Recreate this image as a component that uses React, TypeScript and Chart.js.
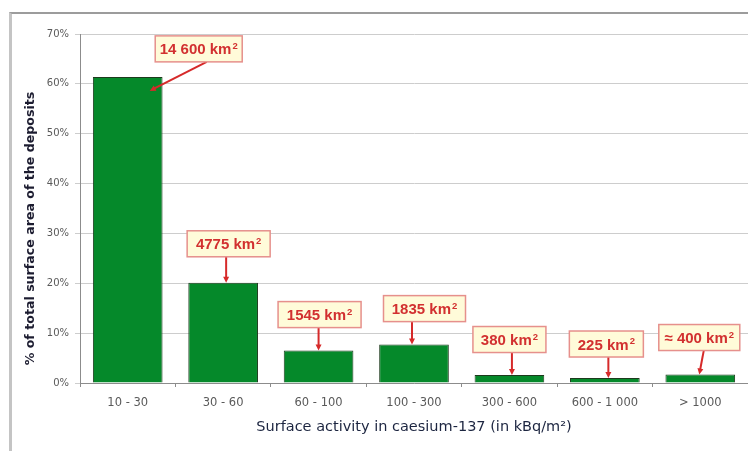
import React, { useEffect, useRef } from "react";
import { Chart, registerables } from "chart.js";

Chart.register(...registerables);

// ---- data ----
const categories = ["10 - 30", "30 - 60", "60 - 100", "100 - 300", "300 - 600", "600 - 1 000", "> 1000"];
const sharePercent = [61.4, 20.1, 6.5, 7.7, 1.6, 1.0, 1.7];
const areaLabels = ["14 600 km", "4775 km", "1545 km", "1835 km", "380 km", "225 km", "\u2248 400 km"];
const areaSuperscript = "2";
const yMax = 70;
const yStep = 10;
const xTitle = "Surface activity in caesium-137 (in kBq/m\u00B2)";
const yTitle = "% of total surface area of the deposits";

// ---- callout layout (pixel offsets relative to each bar's top centre) ----
const calloutLayout = [
  { dx: 71, gap: 15, w: 87, fromDx: 79, toDx: 22, toDy: 14 },
  { dx: 5.5, gap: 26, w: 83, fromDx: 3, toDx: 3, toDy: 0 },
  { dx: 1, gap: 23, w: 83, fromDx: 0, toDx: 0, toDy: 0 },
  { dx: 10.5, gap: 23, w: 82, fromDx: -2, toDx: -2, toDy: 0 },
  { dx: 0, gap: 22.5, w: 73, fromDx: 2.5, toDx: 2.5, toDy: 0 },
  { dx: 1.5, gap: 21, w: 74, fromDx: 3.5, toDx: 3.5, toDy: 0 },
  { dx: -1, gap: 24, w: 81, fromDx: 3.5, toDx: -1, toDy: 0 },
];
const BOX_H = 26;

const calloutPlugin = {
  id: "callouts",
  afterDatasetsDraw(chart: any) {
    const ctx: CanvasRenderingContext2D = chart.ctx;
    const meta = chart.getDatasetMeta(0);
    meta.data.forEach((bar: any, i: number) => {
      const L = calloutLayout[i];
      if (!L) return;
      const bx = bar.x;
      const by = bar.y;
      const cx = bx + L.dx;
      const bottom = by - L.gap;
      const top = bottom - BOX_H;
      const left = cx - L.w / 2;

      // arrow
      const sx = bx + L.fromDx;
      const sy = bottom;
      const ex = bx + L.toDx;
      const ey = by + L.toDy;
      const ang = Math.atan2(ey - sy, ex - sx);
      const head = 6;
      const hw = 3;
      ctx.save();
      ctx.strokeStyle = "#d62a2a";
      ctx.fillStyle = "#d62a2a";
      ctx.lineWidth = 2;
      ctx.beginPath();
      ctx.moveTo(sx, sy);
      ctx.lineTo(ex - Math.cos(ang) * head * 0.8, ey - Math.sin(ang) * head * 0.8);
      ctx.stroke();
      ctx.beginPath();
      ctx.moveTo(ex, ey);
      ctx.lineTo(ex - Math.cos(ang) * head - Math.sin(ang) * hw, ey - Math.sin(ang) * head + Math.cos(ang) * hw);
      ctx.lineTo(ex - Math.cos(ang) * head + Math.sin(ang) * hw, ey - Math.sin(ang) * head - Math.cos(ang) * hw);
      ctx.closePath();
      ctx.fill();

      // box
      ctx.fillStyle = "#fffbd9";
      ctx.fillRect(left, top, L.w, BOX_H);
      ctx.strokeStyle = "#e6908c";
      ctx.lineWidth = 1.5;
      ctx.strokeRect(left, top, L.w, BOX_H);

      // text
      const mainFont = "bold 15px 'Liberation Sans', Arial, sans-serif";
      const supFont = "bold 9.5px 'Liberation Sans', Arial, sans-serif";
      ctx.font = mainFont;
      const mw = ctx.measureText(areaLabels[i]).width;
      ctx.font = supFont;
      const sw = ctx.measureText(areaSuperscript).width;
      const tx = cx - (mw + sw + 1) / 2;
      const baseline = top + BOX_H / 2 + 5.5;
      ctx.fillStyle = "#d23030";
      ctx.textBaseline = "alphabetic";
      ctx.textAlign = "left";
      ctx.font = mainFont;
      ctx.fillText(areaLabels[i], tx, baseline);
      ctx.font = supFont;
      ctx.fillText(areaSuperscript, tx + mw + 1, baseline - 5.5);
      ctx.restore();
    });
  },
};

const titlePlugin = {
  id: "axisTitles",
  afterDraw(chart: any) {
    const ctx: CanvasRenderingContext2D = chart.ctx;
    const a = chart.chartArea;
    ctx.save();
    // y title
    ctx.translate(31, (a.top + a.bottom) / 2 + 20);
    ctx.rotate(-Math.PI / 2);
    ctx.font = "bold 12.6px 'DejaVu Sans', Verdana, sans-serif";
    ctx.fillStyle = "#1c1c30";
    ctx.textAlign = "center";
    ctx.textBaseline = "middle";
    ctx.fillText(yTitle, 0, 0);
    ctx.restore();
    // x title
    ctx.save();
    ctx.font = "14.5px 'DejaVu Sans', Verdana, sans-serif";
    ctx.fillStyle = "#1c2540";
    ctx.textAlign = "center";
    ctx.textBaseline = "middle";
    ctx.fillText(xTitle, (a.left + a.right) / 2, a.bottom + 44);
    ctx.restore();
  },
};

export default function App() {
  const canvasRef = useRef<HTMLCanvasElement | null>(null);

  useEffect(() => {
    if (!canvasRef.current) return;
    const chart = new Chart(canvasRef.current, {
      type: "bar",
      data: {
        labels: categories,
        datasets: [
          {
            data: sharePercent,
            backgroundColor: "#05892a",
            borderColor: "#1d3a1d",
            borderWidth: 1,
            barPercentage: 0.73,
            categoryPercentage: 1,
          },
        ],
      },
      options: {
        responsive: false,
        animation: false,
        layout: { padding: { top: 34, left: 0, right: 0, bottom: 0 } },
        plugins: { legend: { display: false }, tooltip: { enabled: false } },
        scales: {
          x: {
            offset: true,
            grid: { offset: true, drawOnChartArea: false, drawTicks: true, tickLength: 4, color: "#8c8c8c" },
            border: { display: true, color: "#8c8c8c", width: 1 },
            ticks: {
              color: "#5a5a5a",
              font: { family: "'DejaVu Sans', Verdana, sans-serif", size: 11.5 },
              padding: 9,
              maxRotation: 0,
              autoSkip: false,
            },
            afterFit: (scale: any) => {
              scale.height = 68;
            },
          },
          y: {
            min: 0,
            max: yMax,
            ticks: {
              stepSize: yStep,
              color: "#5a5a5a",
              font: { family: "'DejaVu Sans', Verdana, sans-serif", size: 10 },
              padding: 6,
              callback: (v: any) => v + "%",
            },
            grid: { color: "#cdcdcd", lineWidth: 1, tickLength: 5, drawTicks: true },
            border: { display: true, color: "#8c8c8c", width: 1 },
            afterFit: (scale: any) => {
              scale.width = 80;
            },
          },
        },
      },
      plugins: [calloutPlugin, titlePlugin],
    });
    return () => chart.destroy();
  }, []);

  return (
    <div style={{ position: "fixed", left: 0, top: 0, width: 748, height: 451, background: "#ffffff", overflow: "hidden" }}>
      <div
        style={{
          position: "absolute",
          left: 9,
          top: 12,
          right: 0,
          bottom: 0,
          borderTop: "2px solid #9c9c9c",
          borderLeft: "3px solid #c4c4c4",
        }}
      />
      <canvas ref={canvasRef} width={748} height={451} style={{ position: "absolute", left: 0, top: 0, display: "block" }} />
    </div>
  );
}
